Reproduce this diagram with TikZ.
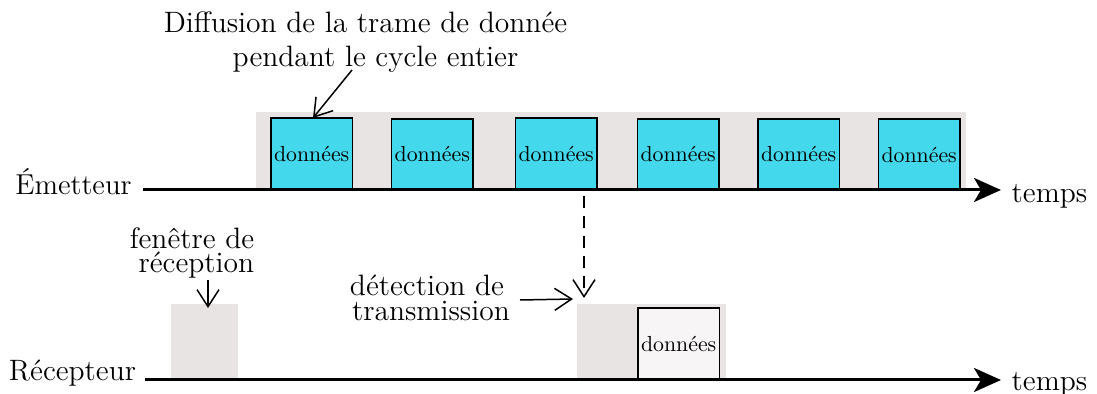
\documentclass[tikz,border=0pt]{standalone}
\usetikzlibrary{arrows.meta}
\definecolor{bandgray}{HTML}{E9E4E4}
\definecolor{boxcyan}{HTML}{43D8EB}
\definecolor{boxpale}{HTML}{F7F5F6}
\tikzset{
  band/.style={fill=bandgray,draw=none},
  framebox/.style={draw=black,line width=0.75pt,inner sep=0pt,anchor=south west,minimum width=40.75pt},
  databox/.style={framebox,fill=boxcyan},
  palebox/.style={framebox,fill=boxpale},
  boxtext/.style={font=\fontsize{10.9}{13}\selectfont,inner sep=0pt},
  axisline/.style={line width=1.5pt,-{Stealth[length=13.5pt,width=12pt,inset=3.5pt]}},
  openarrow/.style={line width=0.75pt,-{Straight Barb[length=8.5pt,width=11pt,line width=0.75pt]}},
  label/.style={font=\fontsize{14.75}{14.2}\selectfont,inner sep=0pt},
}
\begin{document}
\begin{tikzpicture}[x=0.5pt,y=-0.5pt]
\useasboundingbox (0,0) rectangle (1097,394);
% bands
\fill[band] (256,112) rectangle (966,190);
\fill[band] (171,304) rectangle (238,380);
\fill[band] (577,304) rectangle (726,380);
% data frames
\node[databox,minimum height=35.6pt] (d1) at (270.2,190) {};
\node[databox,minimum height=35.2pt] (d2) at (390.8,190) {};
\node[databox,minimum height=35.6pt] (d3) at (514.7,190) {};
\node[databox,minimum height=35.2pt] (d4) at (636.7,190) {};
\node[databox,minimum height=35.2pt] (d5) at (757.2,190) {};
\node[databox,minimum height=35pt] (d6) at (877.7,190) {};
\node[palebox,minimum height=35.7pt] (r1) at (637.2,380) {};
\foreach \n/\y in {d1/154,d2/154,d3/154,d4/154,d5/154,d6/155,r1/344}
  \node[boxtext] at (\n.center |- 0,\y) {données};
% axes
\coordinate (e0) at (143,190);
\coordinate (e1) at (1001,190);
\coordinate (r0) at (145,380);
\coordinate (r2) at (1001,380);
\draw[axisline] (e0) -- (e1);
\draw[axisline] (r0) -- (r2);
% labels
\node[label,font=\fontsize{14.4}{14.2}\selectfont] (em) at (73.5,182) {Émetteur};
\node[label] (rc) at (72.5,373) {Récepteur};
\node[label] (t1) at (1049.5,196) {temps};
\node[label] (t2) at (1049.5,384) {temps};
\node[label,align=center] (diff) at (365.5,42) {Diffusion de la trame de donnée\\[2.8pt]\hspace*{10pt}pendant le cycle entier};
\node[label,align=right,font=\fontsize{14.75}{12.4}\selectfont] (fen) at (192,253) {fenêtre de\\réception};
\node[label,align=center,font=\fontsize{14.75}{12.4}\selectfont] (det) at (429,297.5) {détection de\hspace*{2pt}\\\hspace*{2pt}transmission};
% connectors
\coordinate (diffstart) at (352,70);
\coordinate (difftip) at (313,118);
\coordinate (fenstart) at (208,280);
\coordinate (fentip) at (208,308);
\coordinate (dashstart) at (584,196);
\coordinate (dashtip) at (584,298);
\coordinate (detstart) at (520,300);
\coordinate (dettip) at (573,299);
\draw[openarrow] (diffstart) -- (difftip);
\draw[openarrow] (fenstart) -- (fentip);
\draw[openarrow,dash pattern=on 6pt off 4pt] (dashstart) -- (dashtip);
\draw[openarrow] (detstart) -- (dettip);
\end{tikzpicture}
\end{document}
